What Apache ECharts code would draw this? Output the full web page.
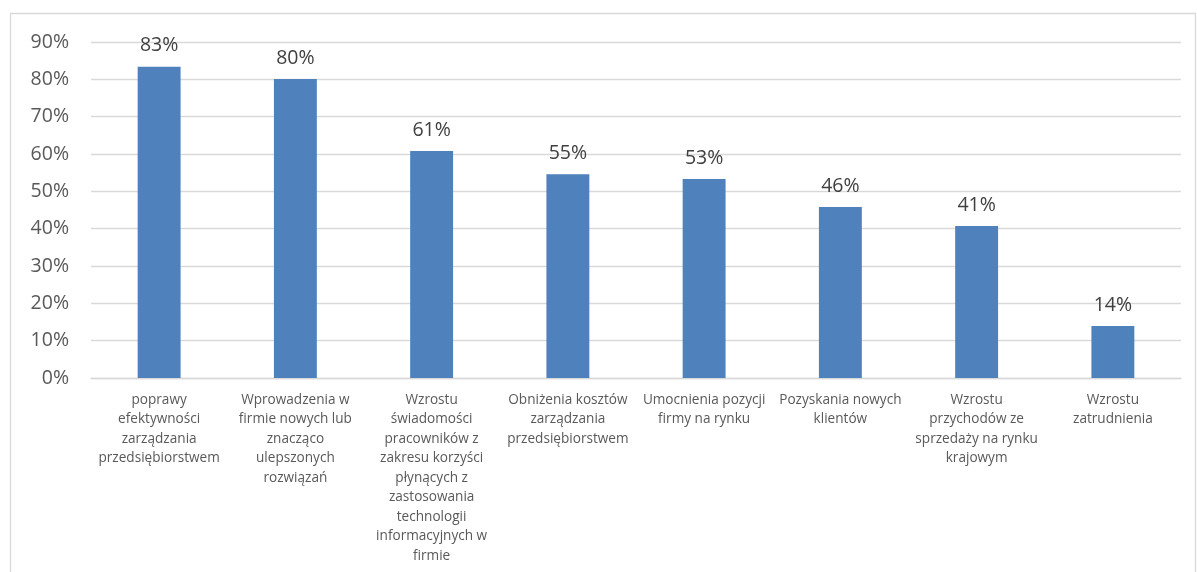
<!DOCTYPE html>
<html><head><meta charset="utf-8">
<script src="https://cdn.jsdelivr.net/npm/echarts@6/dist/echarts.min.js"></script>
<style>html,body{margin:0;padding:0;background:#fff}#c{width:1197px;height:572px}</style>
</head><body><div id="c"></div>
<script>
const categories = [
  "poprawy\nefektywności\nzarządzania\nprzedsiębiorstwem",
  "Wprowadzenia w\nfirmie nowych lub\nznacząco\nulepszonych\nrozwiązań",
  "Wzrostu\nświadomości\npracowników z\nzakresu korzyści\npłynących z\nzastosowania\ntechnologii\ninformacyjnych w\nfirmie",
  "Obniżenia kosztów\nzarządzania\nprzedsiębiorstwem",
  "Umocnienia pozycji\nfirmy na rynku",
  "Pozyskania nowych\nklientów",
  "Wzrostu\nprzychodów ze\nsprzedaży na rynku\nkrajowym",
  "Wzrostu\nzatrudnienia"
];
const values = [83.4, 80.1, 60.8, 54.6, 53.3, 45.8, 40.7, 13.9];
const yTicks = [0, 10, 20, 30, 40, 50, 60, 70, 80, 90];

const chart = echarts.init(document.getElementById('c'), null, {renderer: 'canvas'});
const font = "'Open Sans', 'Liberation Sans', sans-serif";
chart.setOption({
  animation: false,
  graphic: [{
    type: 'rect', shape: {x: 10.5, y: 13.5, width: 1185, height: 600},
    style: {fill: 'none', stroke: '#d9d9d9', lineWidth: 1.3}, silent: true
  }],
  grid: {left: 91, right: 16, top: 42, bottom: 194, containLabel: false},
  xAxis: {
    type: 'category', data: categories,
    axisLine: {show: true, lineStyle: {color: '#d9d9d9', width: 1.3}},
    axisTick: {show: false},
    axisLabel: {interval: 0, color: '#595959', fontFamily: font, fontSize: 13.6, lineHeight: 19.5, margin: 12}
  },
  yAxis: {
    type: 'value', min: yTicks[0], max: yTicks[yTicks.length - 1], interval: 10,
    axisLine: {show: false}, axisTick: {show: false},
    splitLine: {lineStyle: {color: '#d9d9d9', width: 1.3}},
    axisLabel: {formatter: v => v + '%', color: '#595959', fontFamily: font, fontSize: 19.5, margin: 22}
  },
  series: [{
    type: 'bar', data: values, barWidth: '31.5%',
    itemStyle: {color: '#4f81bd'},
    label: {show: true, position: 'top', distance: 11, formatter: p => Math.round(p.value) + '%',
      color: '#404040', fontFamily: font, fontSize: 19.5}
  }]
});
</script></body></html>
